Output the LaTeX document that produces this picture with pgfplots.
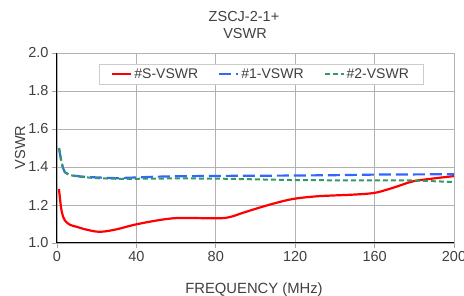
\documentclass[border=0pt]{standalone}
\usepackage{fontspec}
\setmainfont{Liberation Sans}
\usepackage{pgfplots}
\pgfplotsset{compat=1.18}
\definecolor{cred}{RGB}{255,0,0}
\definecolor{cblue}{RGB}{51,102,255}
\definecolor{cgreen}{RGB}{51,153,102}
\definecolor{ctext}{RGB}{64,64,64}
\begin{document}
\begin{tikzpicture}[x=1pt,y=1pt]
\path[use as bounding box] (0,0) rectangle (464,296);
\node[anchor=base,font=\fontsize{14.5}{17}\selectfont,text=ctext] at (244,274) {ZSCJ-2-1+};
\node[anchor=base,font=\fontsize{14.5}{17}\selectfont,text=ctext] at (245,257) {VSWR};
\node[anchor=base,font=\fontsize{14.8}{17}\selectfont,text=ctext] at (254,2.5) {FREQUENCY (MHz)};
\begin{axis}[
  at={(57pt,53pt)}, anchor=south west,
  scale only axis, width=397pt, height=190pt,
  xmin=0, xmax=200, ymin=1, ymax=2,
  xtick={0,40,80,120,160,200},
  ytick={1,1.2,1.4,1.6,1.8,2},
  /pgf/number format/assume math mode=true,
  y tick label style={/pgf/number format/.cd, fixed, fixed zerofill, precision=1},
  tick label style={font=\fontsize{14.5}{17}\selectfont, text=ctext},
  axis lines*=left,
  axis line style={black, line width=1pt},
  grid=major,
  grid style={gray!60, line width=0.8pt},
  tick align=outside,
  major tick length=5pt,
  tick style={gray!70, line width=0.8pt},
  ylabel={VSWR},
  ylabel style={at={(axis description cs:-0.093,0.503)}, anchor=center, rotate=0, font=\fontsize{14.5}{17}\selectfont, text=ctext},
  legend columns=3,
  legend style={at={(axis description cs:0.514,0.889)}, anchor=center,
    draw=gray!40, fill=white, inner xsep=12pt, inner ysep=2pt,
    font=\fontsize{14}{16}\selectfont, text=ctext,
    /tikz/every even column/.append style={column sep=18pt}},
  legend image code/.code={\draw[#1] (0pt,0pt) -- (19pt,0pt);},
  clip=false,
]
\addplot[cred, line width=2.2pt, smooth, tension=0.6] coordinates {
(1,1.284) (2,1.19) (3,1.14) (4,1.118) (6.5,1.096) (10,1.085) (15,1.07) (21.7,1.059) (30,1.072) (39,1.096) (50,1.118) (58.5,1.13) (66,1.132) (78,1.13) (86,1.134) (94,1.16) (102,1.186) (110,1.21) (119,1.232) (130,1.245) (139,1.25) (150,1.255) (159.5,1.263) (166,1.28) (172,1.30) (179.6,1.325) (190,1.34) (200,1.352)
};
\addlegendentry{\#S-VSWR}
\addplot[cblue, line width=2.2pt, dash pattern=on 12pt off 5pt] coordinates {
(1,1.50) (2,1.44) (3,1.395) (4,1.372) (6,1.36) (8,1.355) (12,1.35) (20,1.345) (30,1.341) (40,1.345) (50,1.349) (60,1.351) (80,1.353) (100,1.354) (120,1.355) (140,1.357) (160,1.36) (180,1.361) (200,1.362)
};
\addlegendentry{\#1-VSWR}
\addplot[cgreen, line width=2pt, dash pattern=on 5pt off 3pt] coordinates {
(1,1.50) (2,1.44) (3,1.395) (4,1.372) (6,1.36) (8,1.354) (12,1.348) (20,1.341) (30,1.338) (40,1.338) (60,1.34) (80,1.339) (100,1.335) (120,1.331) (140,1.33) (160,1.33) (180,1.329) (190,1.325) (200,1.321)
};
\addlegendentry{\#2-VSWR}
\end{axis}
\end{tikzpicture}
\end{document}
